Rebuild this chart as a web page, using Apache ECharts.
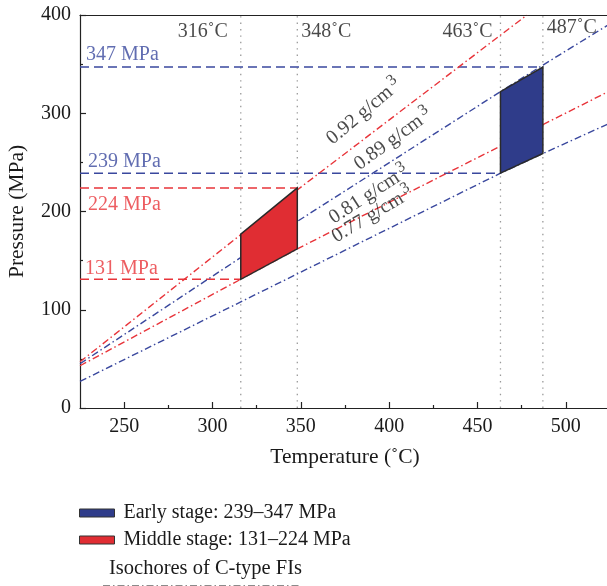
<!DOCTYPE html>
<html><head><meta charset="utf-8">
<script src="https://cdn.jsdelivr.net/npm/echarts@6/dist/echarts.min.js"></script>
<style>html,body{margin:0;padding:0;background:#fff}#c{width:607px;height:586px}</style>
</head><body><div id="c"></div>
<script>
// ---- data ----
const xTickLabels = [250, 300, 350, 400, 450, 500];
const xMinorTicks = [275, 325, 375, 425, 475, 525];
const yTickLabels = [0, 100, 200, 300, 400];

const tempMarks = [316, 348, 463, 487];
const tempLabels = ['316˚C', '348˚C', '463˚C', '487˚C'];

const pressureLevels = [347, 239, 224, 131];
const pressureEnds = [487, 463, 348, 316];
const pressureLabels = ['347 MPa', '239 MPa', '224 MPa', '131 MPa'];

const iso092 = [[225, 47], [348, 222], [478, 400]];
const iso089 = [[225, 45], [315, 152], [463, 322], [487, 349], [525, 391]];
const iso081 = [[225, 43], [348, 162], [524, 322]];
const iso077 = [[225, 27], [316, 108], [463, 239], [487, 259], [525, 290]];
const isoDensities = ['0.92', '0.89', '0.81', '0.77'];
const isoLabelAnchors = [[385, 303], [401.6, 275], [388, 218.7], [390, 198.4]];

const earlyStage = [[463, 239], [463, 322], [487, 347], [487, 259]];
const middleStage = [[316, 131], [316, 177], [348, 224], [348, 162]];

const earlyName = 'Early stage: 239–347 MPa';
const middleName = 'Middle stage: 131–224 MPa';
const isoTitle = 'Isochores of C-type FIs';

// ---- styles ----
const FONT = '"Liberation Serif", "DejaVu Serif", serif';
const BLUE = '#3a489e';
const RED = '#e8343a';
const BLUE_FILL = '#2f3c8a';
const RED_FILL = '#e02d33';
const TXT = '#1a1a1a';
const XMIN = 225, XMAX = 525;

const isoSets = [iso092, iso089, iso081, iso077];
const isoColors = [RED, BLUE, RED, BLUE];
const isoRot = [40, 36, 33, 31];
const pressColors = [BLUE, BLUE, RED, RED];
const pressLabelPos = [[6, -12], [8, -11], [8, 17], [5, -11]];
const tempLabelPos = [[-13, 17], [4, 17], [-8, 17], [4, 13]];
const tempAlign = ['right', 'left', 'right', 'left'];

const series = [];

// vertical dotted lines
tempMarks.forEach(t => {
  series.push({
    type: 'line', symbol: 'none', silent: true, z: 1,
    data: [[t, 0], [t, 400]],
    lineStyle: { color: '#9a9a9a', width: 1.3, type: [1.4, 5] }
  });
});

// horizontal dashed pressure lines
pressureLevels.forEach((p, i) => {
  series.push({
    type: 'line', symbol: 'none', silent: true, z: 2,
    data: [[XMIN, p], [pressureEnds[i], p]],
    lineStyle: { color: pressColors[i], width: 1.5, type: [9, 5] }
  });
});

// isochores
isoSets.forEach((d, i) => {
  series.push({
    type: 'line', symbol: 'none', silent: true, z: 3, clip: true,
    data: d,
    lineStyle: { color: isoColors[i], width: 1.4, type: [7, 3, 1.5, 3] }
  });
});

// polygons
function polySeries(name, pts, fill) {
  return {
    type: 'custom', name: name, z: 5,
    itemStyle: { color: fill, borderColor: '#333', borderWidth: 1 },
    data: [0],
    renderItem: function (params, api) {
      return {
        type: 'polygon',
        shape: { points: pts.map(p => api.coord(p)) },
        style: { fill: fill, stroke: '#2a2a2a', lineWidth: 1.5 }
      };
    }
  };
}
series.push(polySeries(earlyName, earlyStage, BLUE_FILL));
series.push(polySeries(middleName, middleStage, RED_FILL));

// pressure labels
series.push({
  type: 'scatter', symbolSize: 0, silent: true, z: 6,
  data: pressureLevels.map((p, i) => ({
    value: [XMIN, p],
    label: {
      show: true, formatter: pressureLabels[i], position: pressLabelPos[i],
      align: 'left', verticalAlign: 'middle',
      color: pressColors[i], fontSize: 20, fontFamily: FONT
    }
  }))
});

// temperature labels
series.push({
  type: 'scatter', symbolSize: 0, silent: true, z: 6,
  data: tempMarks.map((t, i) => ({
    value: [t, 400],
    label: {
      show: true, formatter: tempLabels[i], position: tempLabelPos[i],
      align: tempAlign[i], verticalAlign: 'middle',
      color: TXT, fontSize: 20, fontFamily: FONT
    }
  }))
});

// isochore labels
series.push({
  type: 'scatter', symbolSize: 0, silent: true, z: 6,
  data: isoLabelAnchors.map((a, i) => ({
    value: a,
    label: {
      show: true, position: 'inside', rotate: isoRot[i],
      align: 'center', verticalAlign: 'middle',
      formatter: '{a|' + isoDensities[i] + ' g/cm}{s|3}',
      rich: {
        a: { fontSize: 20, fontFamily: FONT, color: TXT, verticalAlign: 'bottom' },
        s: { fontSize: 16, fontFamily: FONT, color: TXT, verticalAlign: 'bottom', padding: [0, 0, 8, 3] }
      }
    }
  }))
});

const chart = echarts.init(document.getElementById('c'), null, { renderer: 'canvas' });
chart.setOption({
  animation: false,
  backgroundColor: '#fff',
  grid: { left: 80, top: 15, right: -3, bottom: 178, containLabel: false, outerBoundsMode: 'none' },
  legend: {
    orient: 'vertical', left: 79, top: 503, padding: 0,
    itemWidth: 35, itemHeight: 8, itemGap: 7,
    selectedMode: false,
    data: [{ name: earlyName, icon: 'rect' }, { name: middleName, icon: 'rect' }],
    itemStyle: { borderColor: '#333', borderWidth: 1 },
    textStyle: { fontSize: 20, fontFamily: FONT, color: TXT, padding: [0, 0, 0, 4] }
  },
  xAxis: [{
    type: 'value', min: XMIN, max: XMAX, position: 'bottom',
    axisLine: { show: true, lineStyle: { color: '#222', width: 1.2 } },
    axisTick: { show: true, inside: true, length: 6, customValues: xTickLabels, lineStyle: { color: '#222', width: 1.2 } },
    axisLabel: { customValues: xTickLabels, fontSize: 20, fontFamily: FONT, color: TXT, margin: 9 },
    splitLine: { show: false },
    name: 'Temperature (˚C)', nameLocation: 'middle', nameGap: 38,
    nameTextStyle: { fontSize: 21.5, fontFamily: FONT, color: TXT }
  }, {
    type: 'value', min: XMIN, max: XMAX, position: 'bottom',
    axisLine: { show: false },
    axisTick: { show: true, inside: true, length: 3, customValues: xMinorTicks, lineStyle: { color: '#222', width: 1.2 } },
    axisLabel: { show: false }, splitLine: { show: false }
  }, {
    type: 'value', min: XMIN, max: XMAX, position: 'top',
    axisLine: { show: true, lineStyle: { color: '#222', width: 1.2 } },
    axisTick: { show: false }, axisLabel: { show: false }, splitLine: { show: false }
  }],
  yAxis: {
    type: 'value', min: 0, max: 400, interval: 100,
    axisLine: { show: true, lineStyle: { color: '#222', width: 1.2 } },
    axisTick: { show: true, inside: true, length: 6, lineStyle: { color: '#222', width: 1.2 } },
    minorTick: { show: true, splitNumber: 2, length: 3, lineStyle: { color: '#222', width: 1.2 } },
    axisLabel: { fontSize: 20, fontFamily: FONT, color: TXT, margin: 9 },
    splitLine: { show: false },
    name: 'Pressure (MPa)', nameLocation: 'middle', nameGap: 52,
    nameTextStyle: { fontSize: 21.5, fontFamily: FONT, color: TXT }
  },
  graphic: [{
    type: 'text', left: 109, top: 558,
    style: { text: isoTitle, fontSize: 20.5, fontFamily: FONT, fill: TXT }
  }, {
    type: 'line', shape: { x1: 103, y1: 585.8, x2: 300, y2: 585.8 },
    style: { stroke: '#666', lineWidth: 1.2, lineDash: [7, 3, 1.5, 3] }
  }],
  series: series
});
</script>
</body></html>
